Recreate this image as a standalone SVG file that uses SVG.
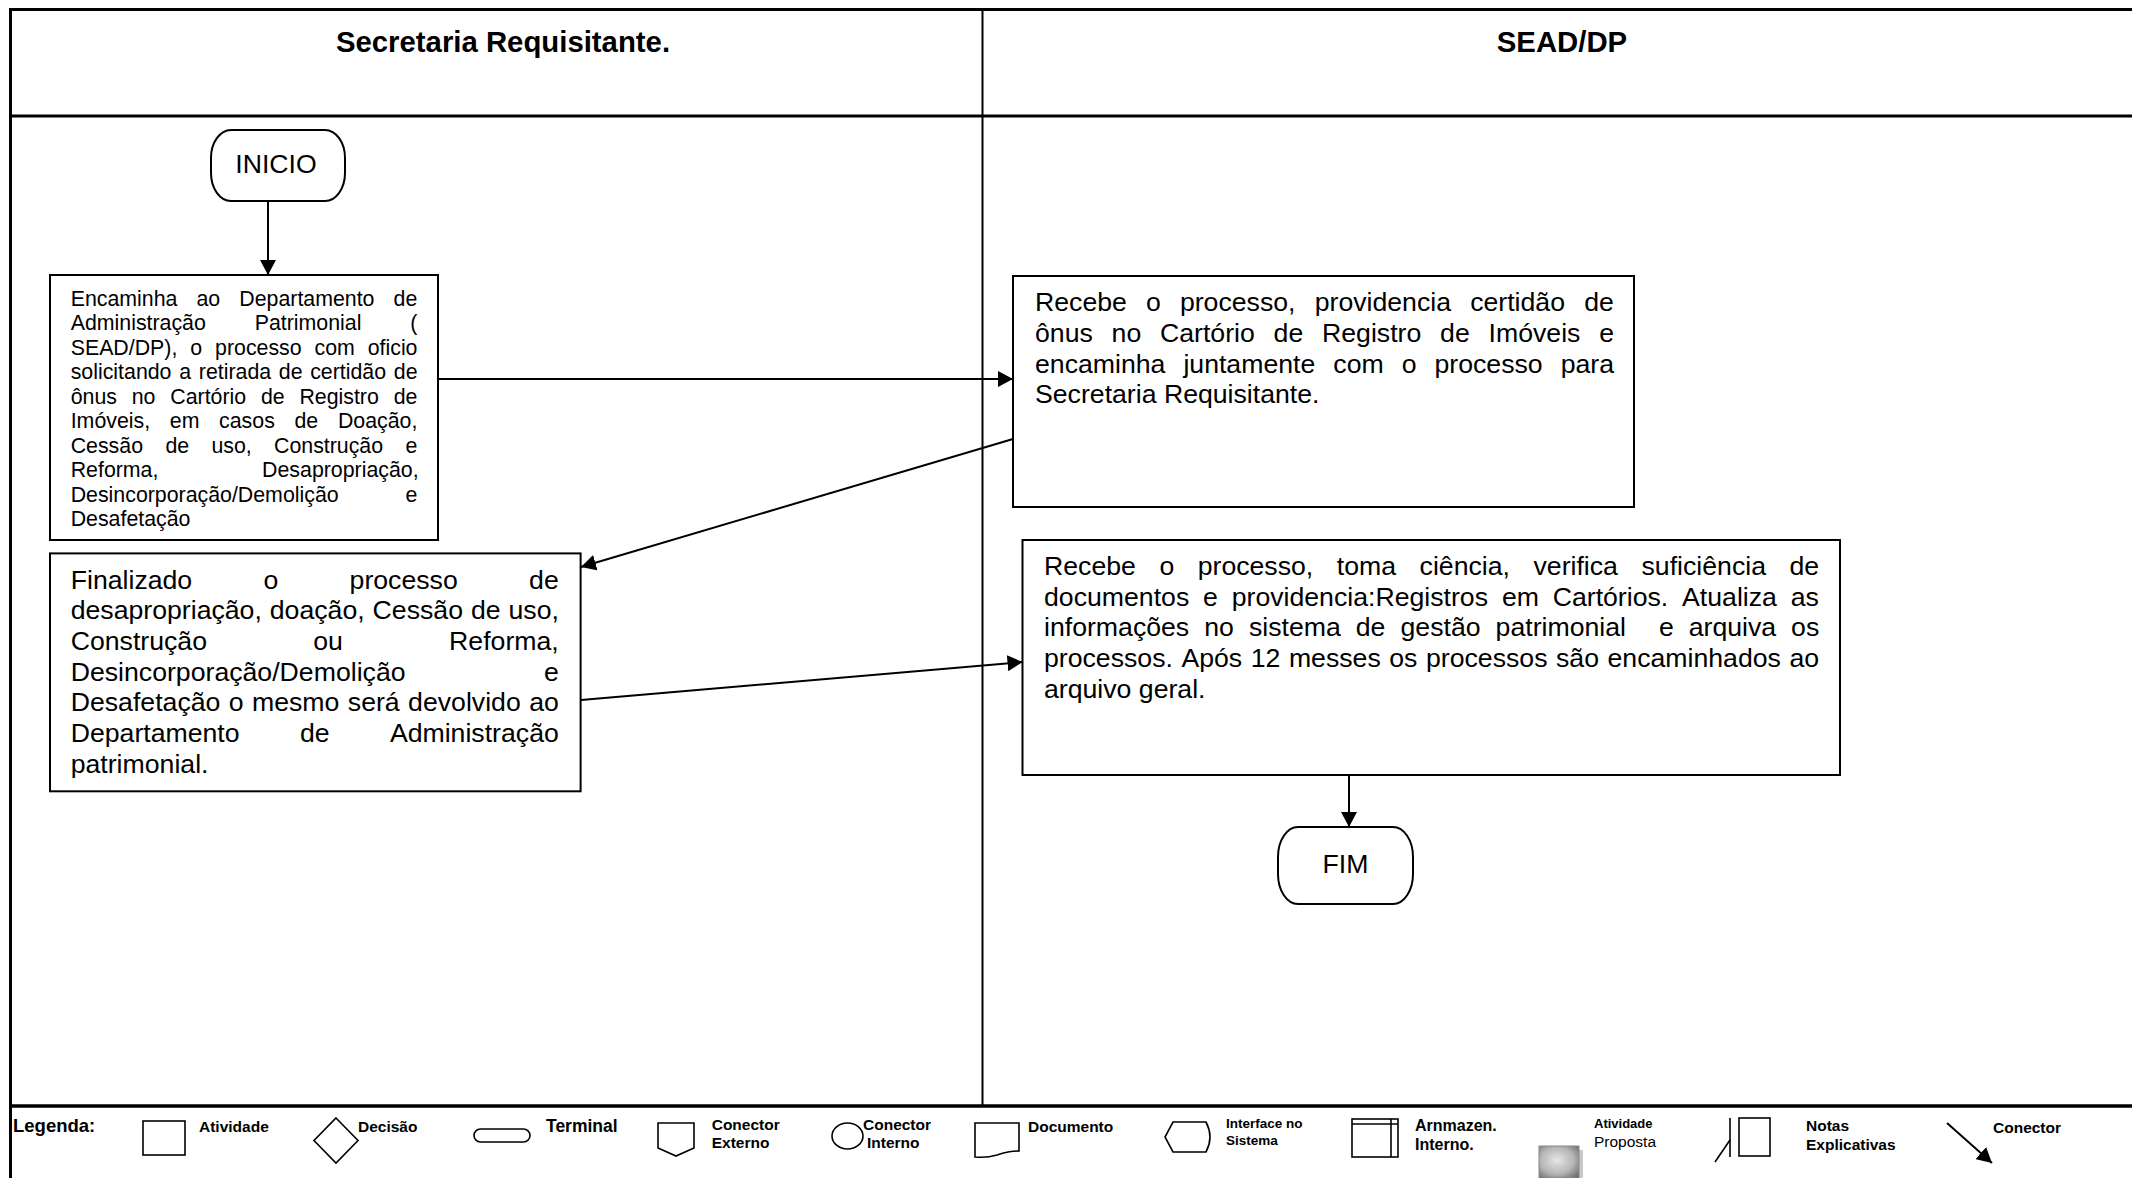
<svg xmlns="http://www.w3.org/2000/svg" width="2132" height="1178" viewBox="0 0 2132 1178">
<style>
text{font-family:"Liberation Sans",Arial,sans-serif;fill:#000}
.hd{font-size:29.33px;font-weight:bold;text-anchor:middle}
.t16{font-size:21.33px}
.t20{font-size:26.67px}
.term{font-size:26.67px;text-anchor:middle}
.lg{font-size:15.5px;font-weight:bold}
.box{fill:#fff;stroke:#000;stroke-width:2}
.sh{fill:none;stroke:#000;stroke-width:1.6}
.lane{stroke:#000;fill:none}
.con{stroke:#000;stroke-width:2;fill:none;marker-end:url(#ah)}
</style>
<defs>
<marker id="ah" markerUnits="userSpaceOnUse" markerWidth="16" markerHeight="16" refX="15" refY="8" orient="auto"><path d="M0,0 L15,8 L0,16 Z" fill="#000"/></marker>
<radialGradient id="gr" cx="0.45" cy="0.45" r="0.7"><stop offset="0" stop-color="#e6e6e6"/><stop offset="0.6" stop-color="#b5b5b5"/><stop offset="1" stop-color="#6e6e6e"/></radialGradient>
</defs>
<rect width="2132" height="1178" fill="#fff"/>
<g id="lanes">
<line class="lane" x1="10" y1="9.5" x2="2132" y2="9.5" stroke-width="3"/>
<line class="lane" x1="10.5" y1="8" x2="10.5" y2="1178" stroke-width="3"/>
<line class="lane" x1="10" y1="116" x2="2132" y2="116" stroke-width="3"/>
<line class="lane" x1="982.5" y1="9" x2="982.5" y2="1106" stroke-width="2"/>
<line class="lane" x1="10" y1="1106" x2="2132" y2="1106" stroke-width="3.5"/>
<text class="hd" x="503" y="52">Secretaria Requisitante.</text>
<text class="hd" x="1562" y="52">SEAD/DP</text>
</g>
<g id="connectors">
<line class="con" x1="268" y1="201" x2="268" y2="275"/>
<line class="con" x1="438" y1="379" x2="1013" y2="379"/>
<line class="con" x1="1013" y1="439" x2="581" y2="567"/>
<line class="con" x1="581" y1="700" x2="1022.5" y2="662"/>
<line class="con" x1="1349" y1="775" x2="1349" y2="827"/>
</g>
<g id="inicio">
<rect class="box" x="211" y="130" width="134" height="71" rx="20" ry="28"/>
<text class="term" x="276" y="173">INICIO</text>
</g>
<g id="encaminha">
<rect class="box" x="50" y="275" width="388" height="265"/>
<text class="t16" y="305.5"><tspan x="70.7">Encaminha</tspan><tspan x="196.5">ao</tspan><tspan x="239.3">Departamento</tspan><tspan x="393.6">de</tspan></text>
<text class="t16" y="330"><tspan x="70.7">Administração</tspan><tspan x="254.7">Patrimonial</tspan><tspan x="410.3">(</tspan></text>
<text class="t16" y="354.6"><tspan x="70.7">SEAD/DP),</tspan><tspan x="190.3">o</tspan><tspan x="215.1">processo</tspan><tspan x="314.5">com</tspan><tspan x="367.7">oficio</tspan></text>
<text class="t16" y="379.1"><tspan x="70.7">solicitando</tspan><tspan x="179.2">a</tspan><tspan x="198.8">retirada</tspan><tspan x="278.8">de</tspan><tspan x="310.2">certidão</tspan><tspan x="393.8">de</tspan></text>
<text class="t16" y="403.6"><tspan x="70.7">ônus</tspan><tspan x="131.7">no</tspan><tspan x="170.3">Cartório</tspan><tspan x="260.9">de</tspan><tspan x="299.4">Registro</tspan><tspan x="393.7">de</tspan></text>
<text class="t16" y="428.2"><tspan x="70.7">Imóveis,</tspan><tspan x="169.8">em</tspan><tspan x="219.1">casos</tspan><tspan x="294.5">de</tspan><tspan x="337.9">Doação,</tspan></text>
<text class="t16" y="452.7"><tspan x="70.7">Cessão</tspan><tspan x="165.4">de</tspan><tspan x="211.4">uso,</tspan><tspan x="274">Construção</tspan><tspan x="405.5">e</tspan></text>
<text class="t16" y="477.2"><tspan x="70.7">Reforma,</tspan><tspan x="262.1">Desapropriação,</tspan></text>
<text class="t16" y="501.7"><tspan x="70.7">Desincorporação/Demolição</tspan><tspan x="405.5">e</tspan></text>
<text class="t16" y="526.3" x="70.7">Desafetação</text>
</g>
<g id="finalizado">
<rect class="box" x="50" y="553.4" width="530.6" height="237.9"/>
<text class="t20" y="588.7"><tspan x="70.7">Finalizado</tspan><tspan x="263.5">o</tspan><tspan x="349.6">processo</tspan><tspan x="529.1">de</tspan></text>
<text class="t20" y="619.4"><tspan x="70.7">desapropriação,</tspan><tspan x="269.8">doação,</tspan><tspan x="372.6">Cessão</tspan><tspan x="470.9">de</tspan><tspan x="508.5">uso,</tspan></text>
<text class="t20" y="650"><tspan x="70.7">Construção</tspan><tspan x="313.3">ou</tspan><tspan x="449.1">Reforma,</tspan></text>
<text class="t20" y="680.7"><tspan x="70.7">Desincorporação/Demolição</tspan><tspan x="544">e</tspan></text>
<text class="t20" y="711.4"><tspan x="70.7">Desafetação</tspan><tspan x="228.8">o</tspan><tspan x="252">mesmo</tspan><tspan x="347.8">será</tspan><tspan x="408.1">devolvido</tspan><tspan x="529.2">ao</tspan></text>
<text class="t20" y="742.1"><tspan x="70.7">Departamento</tspan><tspan x="299.9">de</tspan><tspan x="389.9">Administração</tspan></text>
<text class="t20" y="772.7" x="70.7">patrimonial.</text>
</g>
<g id="recebe1">
<rect class="box" x="1013" y="276" width="621" height="231"/>
<text class="t20" y="311.4"><tspan x="1035">Recebe</tspan><tspan x="1146">o</tspan><tspan x="1179.9">processo,</tspan><tspan x="1314.7">providencia</tspan><tspan x="1470.2">certidão</tspan><tspan x="1584.3">de</tspan></text>
<text class="t20" y="342.1"><tspan x="1035">ônus</tspan><tspan x="1111.6">no</tspan><tspan x="1160">Cartório</tspan><tspan x="1273.6">de</tspan><tspan x="1322">Registro</tspan><tspan x="1440.1">de</tspan><tspan x="1488.6">Imóveis</tspan><tspan x="1599.2">e</tspan></text>
<text class="t20" y="372.7"><tspan x="1035">encaminha</tspan><tspan x="1183.4">juntamente</tspan><tspan x="1333.3">com</tspan><tspan x="1401.7">o</tspan><tspan x="1434.5">processo</tspan><tspan x="1560.7">para</tspan></text>
<text class="t20" y="403.4" x="1035">Secretaria Requisitante.</text>
</g>
<g id="recebe2">
<rect class="box" x="1022.5" y="540" width="817.5" height="235"/>
<text class="t20" y="575.1"><tspan x="1044">Recebe</tspan><tspan x="1159.4">o</tspan><tspan x="1197.7">processo,</tspan><tspan x="1336.8">toma</tspan><tspan x="1419.6">ciência,</tspan><tspan x="1533.5">verifica</tspan><tspan x="1641.5">suficiência</tspan><tspan x="1789.4">de</tspan></text>
<text class="t20" y="605.8"><tspan x="1044">documentos</tspan><tspan x="1203.1">e</tspan><tspan x="1231.7">providencia:Registros</tspan><tspan x="1501.9">em</tspan><tspan x="1552.7">Cartórios.</tspan><tspan x="1682.1">Atualiza</tspan><tspan x="1790.8">as</tspan></text>
<text class="t20" y="636.4"><tspan x="1044">informações</tspan><tspan x="1204.2">no</tspan><tspan x="1248.9">sistema</tspan><tspan x="1355.8">de</tspan><tspan x="1400.5">gestão</tspan><tspan x="1495.6">patrimonial</tspan><tspan x="1658.9">e</tspan><tspan x="1688.7">arquiva</tspan><tspan x="1791.1">os</tspan></text>
<text class="t20" y="667.1"><tspan x="1044">processos.</tspan><tspan x="1181.4">Após</tspan><tspan x="1250.7">12</tspan><tspan x="1288.9">messes</tspan><tspan x="1389.3">os</tspan><tspan x="1426">processos</tspan><tspan x="1556">são</tspan><tspan x="1607.5">encaminhados</tspan><tspan x="1789.4">ao</tspan></text>
<text class="t20" y="697.8" x="1044">arquivo geral.</text>
</g>
<g id="fim">
<rect class="box" x="1278" y="827" width="135" height="77" rx="20" ry="30"/>
<text class="term" x="1345.5" y="872.5">FIM</text>
</g>
<g id="legenda">
<text class="lg" x="13" y="1132" style="font-size:18.5px">Legenda:</text>
<rect class="sh" x="143" y="1121" width="42" height="34"/>
<text class="lg" x="199" y="1132">Atividade</text>
<path class="sh" d="M336,1118 L358,1140.5 L336,1163 L314,1140.5 Z"/>
<text class="lg" x="358" y="1132">Decisão</text>
<rect class="sh" x="474" y="1129" width="56" height="13" rx="6.5"/>
<text class="lg" x="546" y="1132" style="font-size:17.5px">Terminal</text>
<path class="sh" d="M658,1123 H694 V1148 L676,1156 L658,1148 Z"/>
<text class="lg" x="711.7" y="1130">Conector</text>
<text class="lg" x="711.7" y="1148">Externo</text>
<ellipse class="sh" cx="847.5" cy="1136" rx="15.5" ry="13"/>
<text class="lg" x="863" y="1130">Conector</text>
<text class="lg" x="867" y="1148">Interno</text>
<path class="sh" d="M975,1123 H1019 V1151 Q1009,1151 997,1155 Q987,1158 975,1157 Z"/>
<text class="lg" x="1028" y="1132">Documento</text>
<path class="sh" d="M1173,1122 H1206 Q1214,1137 1206,1152 H1173 L1165,1137 Z"/>
<text class="lg" x="1226" y="1128" style="font-size:13.5px">Interface no</text>
<text class="lg" x="1226" y="1145" style="font-size:13.5px">Sistema</text>
<rect class="sh" x="1352" y="1119" width="46" height="38"/>
<line class="sh" x1="1352" y1="1124" x2="1398" y2="1124"/>
<line class="sh" x1="1391" y1="1119" x2="1391" y2="1157"/>
<text class="lg" x="1415" y="1131" style="font-size:16px">Arnmazen.</text>
<text class="lg" x="1415" y="1150" style="font-size:16px">Interno.</text>
<text class="lg" x="1594" y="1128" style="font-size:13px">Atividade</text>
<text x="1594" y="1147" style="font-size:15.5px">Proposta</text>
<rect x="1543" y="1150" width="40" height="32" fill="#c8c8c8"/>
<rect x="1539" y="1146" width="40" height="32" fill="url(#gr)" stroke="#888" stroke-width="1"/>
<line class="sh" x1="1730" y1="1118" x2="1730" y2="1157"/>
<line class="sh" x1="1715" y1="1162" x2="1730" y2="1140"/>
<rect class="sh" x="1739" y="1118" width="31" height="38"/>
<text class="lg" x="1806" y="1131">Notas</text>
<text class="lg" x="1806" y="1150">Explicativas</text>
<line class="con" x1="1947" y1="1123" x2="1992" y2="1163"/>
<text class="lg" x="1993" y="1133">Conector</text>
</g>
</svg>
